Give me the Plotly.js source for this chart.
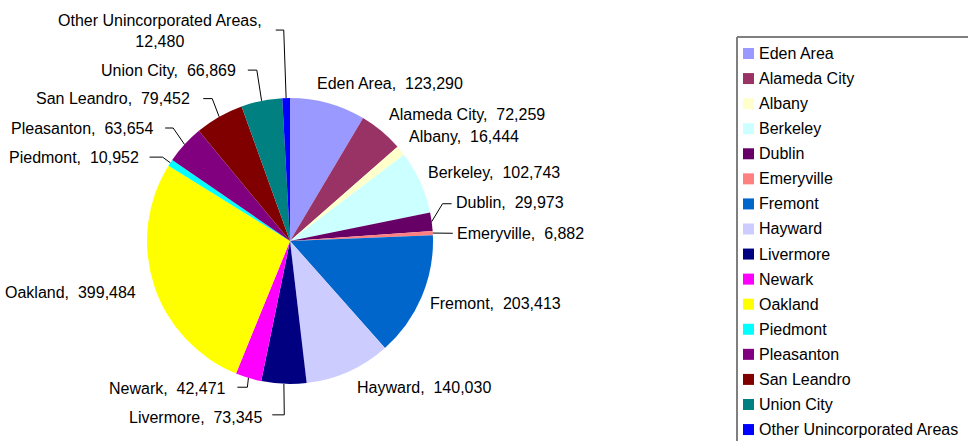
<!DOCTYPE html>
<html>
<head>
<meta charset="utf-8">
<script src="https://cdn.plot.ly/plotly-3.0.1.min.js"></script>
<style>
  html, body { margin: 0; padding: 0; background: #ffffff; }
  #chart { width: 968px; height: 441px; }
</style>
</head>
<body>
<div id="chart"></div>
<script>
// ---------- data ----------
const categories = [
  "Eden Area", "Alameda City", "Albany", "Berkeley", "Dublin", "Emeryville",
  "Fremont", "Hayward", "Livermore", "Newark", "Oakland", "Piedmont",
  "Pleasanton", "San Leandro", "Union City", "Other Unincorporated Areas"
];
const population = [
  123290, 72259, 16444, 102743, 29973, 6882,
  203413, 140030, 73345, 42471, 399484, 10952,
  63654, 79452, 66869, 12480
];
const sliceColors = [
  "#9999FF", "#993366", "#FFFFCC", "#CCFFFF", "#660066", "#FF8080",
  "#0066CC", "#CCCCFF", "#000080", "#FF00FF", "#FFFF00", "#00FFFF",
  "#800080", "#800000", "#008080", "#0000FF"
];

// ---------- layout constants (pixels) ----------
const W = 968, H = 441;
const cx = 290, cy = 241, R = 143;
const FONT = "Liberation Sans, Arial, sans-serif";
const FS = 16;

// label nudges relative to point at radius R+14 on the slice mid-angle
const labelNudge = [
  [-17, -6], [-3, -6], [-5, -5], [-7, -4], [8, -17], [8, 1],
  [-6, 1], [1, 3], [-18, 20], [-16, -3], [-3, 3], [-18, 2],
  [-19, -7], [-20, -6], [-21, -17], [-126, -53]
];
// leader line specs: [g1, g2, dy] or null
const leaderSpec = [
  null, null, null, null, [2, 11, 1], [2, 2, 0],
  null, null, [7, 19, -3], [9, 19, -1], null, [9, 22, 0],
  [10, 18, 0], [11, 20, 0], [10, 19, 0], [116, 124, -1]
];

const px = x => x / W;
const py = y => 1 - y / H;

const total = population.reduce((a, b) => a + b, 0);
function edge(deg, rr) {
  const t = deg * Math.PI / 180;
  return [cx + rr * Math.sin(t), cy - rr * Math.cos(t)];
}
const fmt = v => v.toLocaleString("en-US");

const annotations = [];
const shapes = [];
let cum = 0;
population.forEach((v, i) => {
  const span = v / total * 360;
  const mid = cum + span / 2;
  cum += span;
  const base = edge(mid, R + 14);
  const tx = base[0] + labelNudge[i][0];
  const ty = base[1] + labelNudge[i][1];
  const isOther = i === categories.length - 1;
  const rightSide = mid < 180;
  const anchor = isOther ? "center" : (rightSide ? "left" : "right");
  const text = isOther
    ? categories[i] + ",<br>" + fmt(v)
    : categories[i] + ",\u00A0 " + fmt(v);
  annotations.push({
    x: px(tx), y: py(ty), xref: "paper", yref: "paper",
    xanchor: anchor, yanchor: "middle", align: "center",
    text: text, showarrow: false,
    font: { family: FONT, size: FS, color: "#000000" }
  });
  const sp = leaderSpec[i];
  if (sp) {
    const s = rightSide ? -1 : 1;
    const e = edge(mid, R);
    const p0 = [tx + s * sp[0], ty + sp[2]];
    const p1 = [tx + s * sp[1], ty + sp[2]];
    shapes.push({
      type: "path", xref: "paper", yref: "paper",
      path: `M ${px(p0[0])},${py(p0[1])} L ${px(p1[0])},${py(p1[1])} L ${px(e[0])},${py(e[1])}`,
      line: { color: "#000000", width: 1 }
    });
  }
});

// ---------- custom legend ----------
const legX = 737, legY = 37, legStep = 25.07, legFirst = 53.5;
shapes.push({
  type: "line", xref: "paper", yref: "paper",
  x0: px(legX), x1: px(legX), y0: py(legY), y1: py(H + 5),
  line: { color: "#000000", width: 1 }
});
shapes.push({
  type: "line", xref: "paper", yref: "paper",
  x0: px(legX), x1: px(W + 5), y0: py(legY), y1: py(legY),
  line: { color: "#808080", width: 2 }
});
categories.forEach((c, i) => {
  const yc = legFirst + i * legStep;
  shapes.push({
    type: "rect", xref: "paper", yref: "paper",
    x0: px(743), x1: px(754), y0: py(yc - 5.5), y1: py(yc + 5.5),
    fillcolor: sliceColors[i], line: { width: 0 }
  });
  annotations.push({
    x: px(757), y: py(yc), xref: "paper", yref: "paper",
    xanchor: "left", yanchor: "middle", text: c, showarrow: false,
    font: { family: FONT, size: FS, color: "#000000" }
  });
});

const trace = {
  type: "pie",
  labels: categories,
  values: population,
  sort: false,
  direction: "clockwise",
  rotation: 0,
  textinfo: "none",
  hoverinfo: "label+value",
  marker: { colors: sliceColors, line: { width: 0 } },
  domain: { x: [px(cx - R), px(cx + R)], y: [py(cy + R), py(cy - R)] },
  showlegend: false
};

const layout = {
  width: W, height: H,
  margin: { l: 0, r: 0, t: 0, b: 0, pad: 0 },
  paper_bgcolor: "#ffffff",
  showlegend: false,
  annotations: annotations,
  shapes: shapes
};

Plotly.newPlot("chart", [trace], layout, { displayModeBar: false, staticPlot: true });
</script>
</body>
</html>
